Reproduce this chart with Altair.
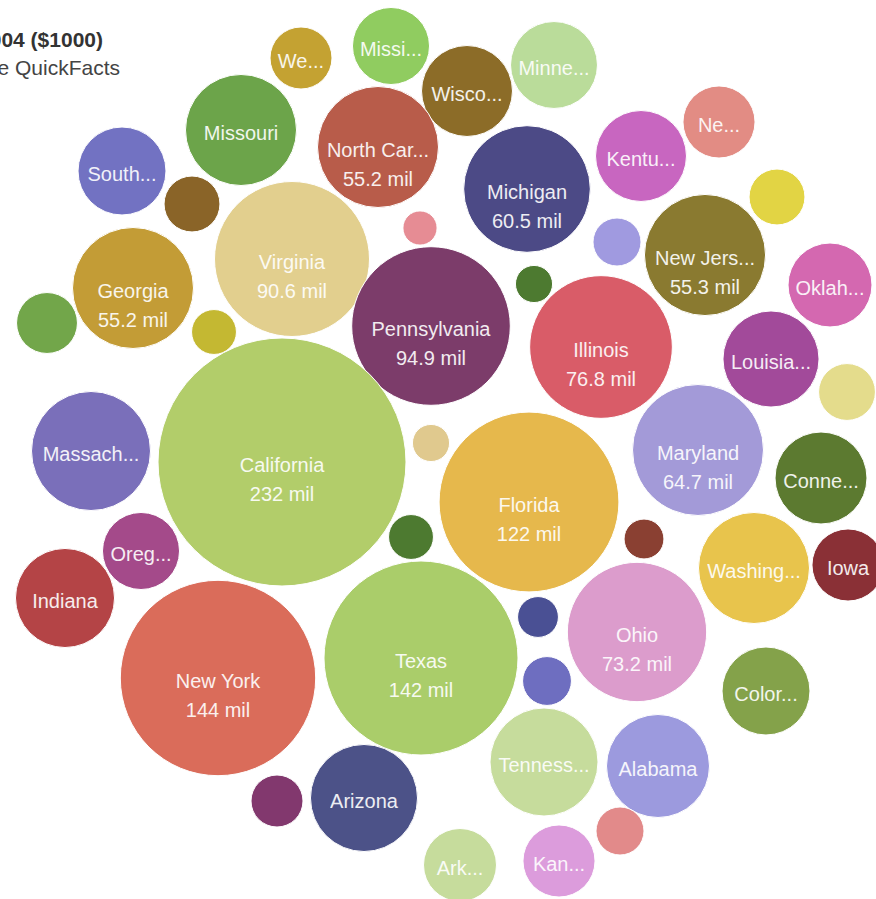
import altair as alt
import pandas as pd

# Federal spending by state, 2004 (millions of $1000)
states = [
    "West Virginia", "Mississippi", "Minnesota", "Wisconsin", "Missouri",
    "North Carolina", "Michigan", "Kentucky", "New Mexico", "South Carolina",
    "Nevada", "Wyoming", "Idaho", "Nebraska", "New Jersey",
    "Oklahoma", "Virginia", "Georgia", "Pennsylvania", "North Dakota",
    "Illinois", "Louisiana", "New Hampshire", "Utah", "Rhode Island",
    "California", "Massachusetts", "Vermont", "Florida", "Maryland",
    "Connecticut", "Alaska", "Oregon", "Indiana", "Montana",
    "Washington", "Iowa", "New York", "Texas", "South Dakota",
    "Ohio", "Delaware", "Colorado", "Tennessee", "Alabama",
    "Arizona", "Hawaii", "Maine", "Arkansas", "Kansas",
]

labels = [
    "We...", "Missi...", "Minne...", "Wisco...", "Missouri",
    "North Car...", "Michigan", "Kentu...", "Ne...", "South...",
    "", "", "", "", "New Jers...",
    "Oklah...", "Virginia", "Georgia", "Pennsylvania", "",
    "Illinois", "Louisia...", "", "", "",
    "California", "Massach...", "", "Florida", "Maryland",
    "Conne...", "", "Oreg...", "Indiana", "",
    "Washing...", "Iowa", "New York", "Texas", "",
    "Ohio", "", "Color...", "Tenness...", "Alabama",
    "Arizona", "", "", "Ark...", "Kan...",
]

values = [
    14.5, 22.4, 28.5, 31.2, 46.5,
    55.2, 60.5, 31.2, 19.6, 29.2,
    11.8, 4.4, 8.7, 11.8, 55.3,
    26.6, 90.6, 55.2, 94.9, 5.2,
    76.8, 34.8, 12.2, 14.0, 7.6,
    232, 53.4, 5.2, 122, 64.7,
    31.9, 7.6, 22.4, 37.0, 6.0,
    46.5, 19.6, 144, 142, 6.3,
    73.2, 9.0, 29.2, 44.0, 40.0,
    43.2, 10.2, 8.7, 20.1, 19.6,
]

# layout coordinates of the packed bubbles (layout units)
pos_x = [
    301, 391, 554, 467, 241,
    378, 527, 641, 719, 122,
    192, 420, 617, 777, 705,
    830, 292, 133, 431, 534,
    601, 771, 847, 47, 214,
    282, 91, 431, 529, 698,
    821, 411, 141, 65, 644,
    754, 848, 218, 421, 538,
    637, 547, 766, 544, 658,
    364, 277, 620, 460, 559,
]
pos_y = [
    58, 46, 65, 91, 130,
    147, 189, 156, 122, 171,
    204, 228, 242, 197, 255,
    285, 259, 288, 326, 284,
    347, 359, 392, 323, 332,
    462, 451, 443, 502, 450,
    478, 537, 551, 598, 539,
    568, 565, 678, 658, 617,
    632, 681, 691, 762, 766,
    798, 801, 831, 865, 861,
]

colors = [
    "#c4a232", "#90cc60", "#badc9a", "#8c6c28", "#6ca44a",
    "#b85c4a", "#4c4a86", "#c866c0", "#e28c84", "#7272c2",
    "#8a6428", "#e68c94", "#a09ae0", "#e2d444", "#8a7a30",
    "#d468b0", "#e2cf8e", "#c39c36", "#7c3c6a", "#4d7a30",
    "#d95c68", "#a24a9a", "#e4dc8c", "#72a64a", "#c4b832",
    "#b2cd6a", "#7a6fba", "#e0c98e", "#e6b84c", "#a39ad8",
    "#5c7a30", "#4d7a30", "#a44a8a", "#b44446", "#8a4032",
    "#e8c44c", "#8a3036", "#da6c5a", "#aacd6a", "#4a5094",
    "#dc9ccc", "#6e6ec0", "#84a24a", "#c6dc9c", "#9c9ade",
    "#4c5288", "#82386e", "#e28a8a", "#c6dc9c", "#dc9cdc",
]

title_line1 = "Federal spending, 2004 ($1000)"
title_line2 = "Source: U.S. Census Bureau, State QuickFacts"

W, H = 876, 899

df = pd.DataFrame({
    "state": states,
    "label": labels,
    "value": values,
    "px": pos_x,
    "py": pos_y,
})
df["value_label"] = [
    (f"{v:.3g} mil" if (v >= 55 and lab) else "") for v, lab in zip(values, labels)
]

xs = alt.X("px:Q", scale=alt.Scale(domain=[0, W]), axis=None)
ys = alt.Y("py:Q", scale=alt.Scale(domain=[0, H], reverse=True), axis=None)

base = alt.Chart(df)

bubbles = base.mark_circle(opacity=1, stroke="white", strokeWidth=1).encode(
    x=xs,
    y=ys,
    size=alt.Size("value:Q", scale=alt.Scale(type="linear", domain=[0, 232], range=[0, 4 * 124 * 124]), legend=None),
    color=alt.Color("state:N", scale=alt.Scale(domain=states, range=colors), legend=None),
    tooltip=["state:N", "value:Q"],
)

names = base.mark_text(
    font="Liberation Sans", fontSize=20, color="white", opacity=0.9,
    baseline="middle", align="center", dy=4,
).encode(x=xs, y=ys, text="label:N")

vals = base.transform_filter("datum.value_label != ''").mark_text(
    font="Liberation Sans", fontSize=20, color="white", opacity=0.9,
    baseline="middle", align="center", dy=33,
).encode(x=xs, y=ys, text="value_label:N")

t1 = alt.Chart(pd.DataFrame({"t": [title_line1]})).mark_text(
    font="Liberation Sans", fontSize=21, fontWeight="bold", color="#333333",
    align="right", baseline="middle",
).encode(text="t:N", x=alt.value(103), y=alt.value(41))

t2 = alt.Chart(pd.DataFrame({"t": [title_line2]})).mark_text(
    font="Liberation Sans", fontSize=21, color="#444444",
    align="right", baseline="middle",
).encode(text="t:N", x=alt.value(120), y=alt.value(69))

chart = alt.layer(bubbles, names, vals, t1, t2).properties(
    width=W, height=H, autosize=alt.AutoSizeParams(type="none"), padding=0,
    background="white",
).configure_view(stroke=None)

chart.save("out.html", embed_options={"renderer": "svg", "actions": False})
